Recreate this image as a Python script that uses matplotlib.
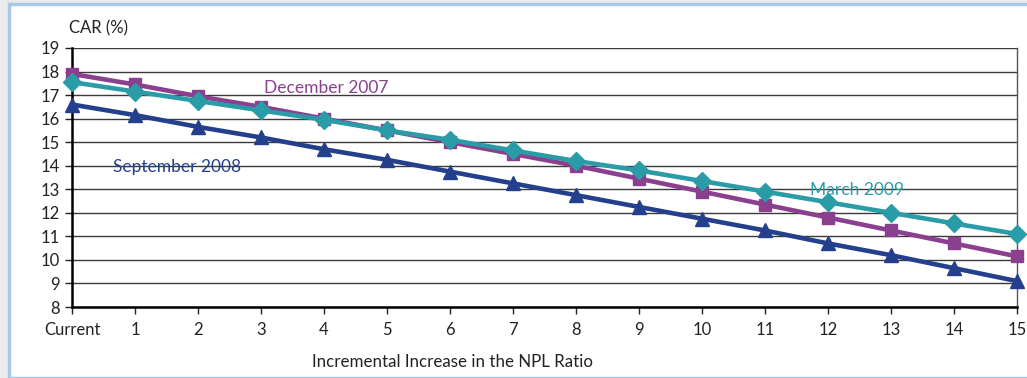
import matplotlib
matplotlib.use("Agg")
import matplotlib.pyplot as plt
from matplotlib.patches import Rectangle

categories = ["Current"] + [str(i) for i in range(1, 16)]
dec_2007 = [17.9, 17.45, 16.95, 16.5, 16.0, 15.5, 15.0, 14.5, 14.0, 13.45, 12.9, 12.35, 11.8, 11.25, 10.7, 10.15]
sep_2008 = [16.6, 16.15, 15.65, 15.2, 14.7, 14.25, 13.75, 13.25, 12.75, 12.25, 11.75, 11.25, 10.7, 10.2, 9.65, 9.1]
mar_2009 = [17.55, 17.15, 16.75, 16.35, 15.95, 15.5, 15.1, 14.65, 14.2, 13.8, 13.35, 12.9, 12.45, 12.0, 11.55, 11.1]
yticks = list(range(8, 20))

c_dec = "#8B3F8F"
c_sep = "#243F8C"
c_mar = "#2A9CA8"

plt.rcParams['font.family'] = ['Lato', 'DejaVu Sans']

fig = plt.figure(figsize=(10.27, 3.78), dpi=100)
fig.patch.set_facecolor("#EBEBEB")
fig.patches.append(Rectangle((9/1027, 0), 1.2, 1 - 4/378, transform=fig.transFigure,
                             facecolor="white", edgecolor="#A9C8E8", linewidth=2.5, zorder=-10))

ax = fig.add_axes([72/1027, 1 - 307/378, (1017 - 72)/1027, (307 - 48)/378])
ax.set_zorder(5)
ax.set_facecolor("none")
x = list(range(len(categories)))

ax.plot(x, sep_2008, color=c_sep, lw=3.3, marker="^", ms=9.5, zorder=3, clip_on=False)
ax.plot(x, dec_2007, color=c_dec, lw=3.3, marker="s", ms=8.5, zorder=4, clip_on=False)
ax.plot(x, mar_2009, color=c_mar, lw=3.3, marker="D", ms=9, zorder=5, clip_on=False)

ax.set_xlim(0, 15)
ax.set_ylim(8, 19)
ax.set_yticks(yticks)
ax.set_xticks(x)
ax.set_xticklabels(categories)
ax.yaxis.grid(True, color="#3a3a3a", lw=1)
ax.set_axisbelow(True)
for s in ["left", "bottom"]:
    ax.spines[s].set_linewidth(1.8)
    ax.spines[s].set_color("black")
ax.spines["top"].set_visible(False)
ax.spines["right"].set_color("#555555")
ax.spines["right"].set_linewidth(1)
ax.tick_params(axis="y", length=5, width=1, labelsize=12, pad=4, colors="#222222")
ax.tick_params(axis="x", length=5, width=1, labelsize=12, pad=6, colors="#222222")

ax.text(-0.05, 19.85, "CAR (%)", fontsize=12, color="#222222", ha="left", va="center")
ax.text(4.03, 17.32, "December 2007", fontsize=12.5, color=c_dec, ha="center", va="center")
ax.text(1.67, 13.93, "September 2008", fontsize=12.5, color=c_sep, ha="center", va="center")
ax.text(12.46, 12.98, "March 2009", fontsize=12.5, color=c_mar, ha="center", va="center")
fig.text(453/1027, 1 - 362/378, "Incremental Increase in the NPL Ratio", fontsize=12.2,
         color="#222222", ha="center", va="center")

fig.savefig("out.png", dpi=100, facecolor=fig.get_facecolor())
